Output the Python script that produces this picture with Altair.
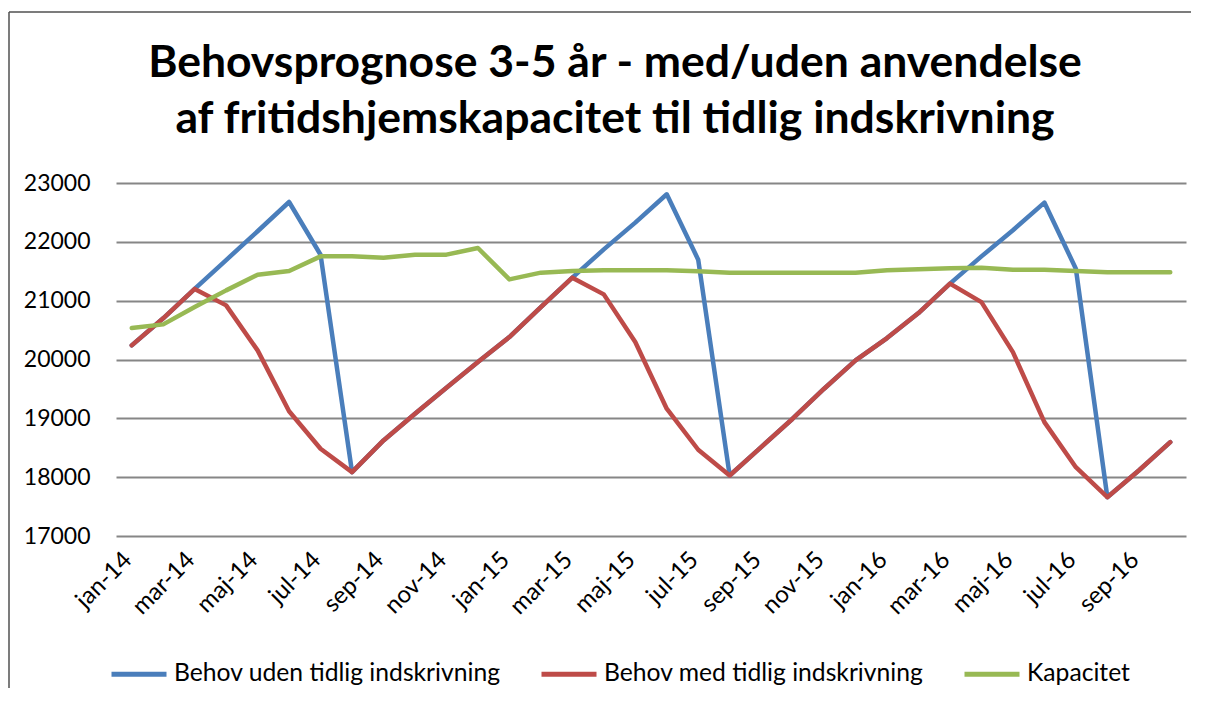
import altair as alt
import pandas as pd

months = ["jan-14", "feb-14", "mar-14", "apr-14", "maj-14", "jun-14", "jul-14", "aug-14",
          "sep-14", "okt-14", "nov-14", "dec-14",
          "jan-15", "feb-15", "mar-15", "apr-15", "maj-15", "jun-15", "jul-15", "aug-15",
          "sep-15", "okt-15", "nov-15", "dec-15",
          "jan-16", "feb-16", "mar-16", "apr-16", "maj-16", "jun-16", "jul-16", "aug-16",
          "sep-16", "okt-16"]

uden = [20240, 20700, 21200, 21690, 22180, 22677, 21780, 18085, 18624, 19078, 19520, 19956,
        20381, 20891, 21391, 21872, 22326, 22808, 21697, 18029, 18510, 18993, 19503, 19985,
        20364, 20789, 21289, 21753, 22196, 22667, 21544, 17660, 18114, 18595]
med = [20240, 20700, 21200, 20920, 20155, 19120, 18483, 18085, 18624, 19078, 19520, 19956,
       20381, 20891, 21391, 21107, 20296, 19163, 18466, 18029, 18510, 18993, 19503, 19985,
       20364, 20789, 21289, 20976, 20126, 18935, 18170, 17660, 18114, 18595]
kap = [20534, 20597, 20891, 21175, 21442, 21503, 21753, 21753, 21731, 21782, 21782, 21895,
       21362, 21476, 21503, 21515, 21515, 21515, 21498, 21476, 21476, 21476, 21476, 21476,
       21515, 21532, 21549, 21560, 21527, 21527, 21503, 21481, 21481, 21481]

series_names = ["Behov uden tidlig indskrivning", "Behov med tidlig indskrivning", "Kapacitet"]
series_colors = ["#4A7EBB", "#BE4B48", "#98B954"]
y_ticks = [17000, 18000, 19000, 20000, 21000, 22000, 23000]
x_labels = months[::2]
title_lines = ["Behovsprognose 3-5 år - med/uden anvendelse",
               "af fritidshjemskapacitet til tidlig indskrivning"]

rows = []
for name, vals in zip(series_names, [uden, med, kap]):
    for i, (m, v) in enumerate(zip(months, vals)):
        rows.append({"maaned": m, "vaerdi": v, "serie": name, "order": i})
df = pd.DataFrame(rows)

FONT = "Lato"

lines = alt.Chart(df).mark_line(strokeWidth=4.5, strokeCap="round", strokeJoin="round").encode(
    x=alt.X("maaned:O", sort=months, title=None,
            axis=alt.Axis(values=x_labels, labelAngle=-45, labelAlign="right",
                          labelBaseline="middle", labelOffset=-4, labelPadding=20,
                          ticks=False, domain=False, grid=False,
                          labelFont=FONT, labelFontSize=24, labelColor="black")),
    y=alt.Y("vaerdi:Q", title=None,
            scale=alt.Scale(domain=[17000, 23000], nice=False, zero=False),
            axis=alt.Axis(values=y_ticks, format="d", ticks=False, domain=False,
                          grid=True, gridColor="#868686", gridWidth=2,
                          labelFont=FONT, labelFontSize=23, labelColor="black", labelPadding=26)),
    color=alt.Color("serie:N", sort=series_names,
                    scale=alt.Scale(domain=series_names, range=series_colors),
                    legend=alt.Legend(title=None, orient="none", legendX=-7, legendY=461,
                                      direction="horizontal", symbolType="stroke",
                                      symbolSize=3025, symbolStrokeWidth=5,
                                      labelFont=FONT, labelFontSize=24.7, labelColor="black",
                                      labelOffset=5, columnPadding=30, padding=0, labelLimit=600)),
    order="order:Q",
)

frame_data = alt.Data(values=[{"a": 1}])
frame_top = alt.Chart(frame_data).mark_rule(stroke="#505050", strokeWidth=1.5).encode(
    x=alt.value(-107), x2=alt.value(1075), y=alt.value(-171)
)
frame_left = alt.Chart(frame_data).mark_rule(stroke="#505050", strokeWidth=1.5).encode(
    x=alt.value(-107), y=alt.value(-171), y2=alt.value(505)
)

chart = alt.layer(frame_top, frame_left, lines).properties(
    width=1070, height=353,
    autosize=alt.AutoSizeParams(type="none"),
    padding={"left": 108, "top": 175, "right": 14, "bottom": 163},
    title=alt.TitleParams(text=title_lines, font=FONT, fontSize=44.5, fontWeight="bold",
                          color="black", anchor="middle", lineHeight=56, offset=0,
                          baseline="alphabetic", dy=166, dx=-36),
).configure_view(stroke=None)

chart.save("out.html", embed_options={"renderer": "svg", "actions": False})
